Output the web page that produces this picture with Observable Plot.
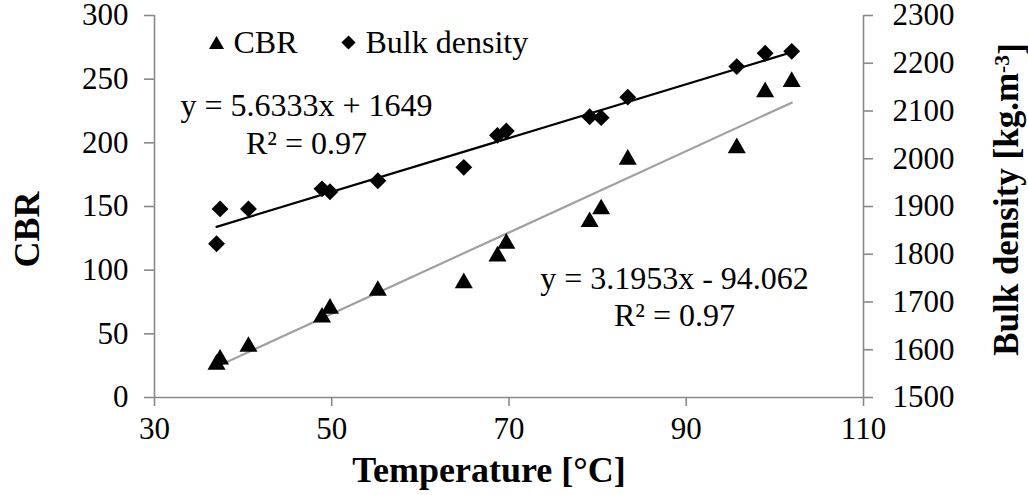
<!DOCTYPE html>
<html>
<head>
<meta charset="utf-8">
<script src="https://cdn.jsdelivr.net/npm/d3@7"></script>
<script src="https://cdn.jsdelivr.net/npm/@observablehq/plot@0.6"></script>
<style>
  html, body { margin: 0; padding: 0; background: #fff; }
  #chart svg { display: block; }
  #chart svg, #chart svg text, #chart svg tspan { font-family: "Liberation Serif", "Times New Roman", Times, serif !important; }
</style>
</head>
<body>
<div id="chart"></div>
<script>
// ---- data ----
const temperature = [37.0, 37.4, 40.6, 48.9, 49.8, 55.2, 64.9, 68.7, 69.7, 79.1, 80.4, 83.4, 95.7, 98.9, 101.9];
const cbr         = [28, 32, 42, 65, 72, 86, 92, 113, 123, 140, 150, 189, 198, 242, 250];
const bulkDensity = [1822, 1895, 1895, 1937, 1931, 1954, 1982, 2049, 2058, 2088, 2086, 2129, 2193, 2221, 2225];

const fitNames      = ["CBR", "Bulk density"];
const fitSlopes     = [3.1953, 5.6333];
const fitIntercepts = [-94.062, 1649];
const fitLabels     = ["y = 3.1953x - 94.062", "y = 5.6333x + 1649"];
const r2Labels      = ["R² = 0.97", "R² = 0.97"];

const xTicks   = [30, 50, 70, 90, 110];
const cbrTicks = [0, 50, 100, 150, 200, 250, 300];
const bdTicks  = [1500, 1600, 1700, 1800, 1900, 2000, 2100, 2200, 2300];

// ---- secondary axis mapping (bulk density -> CBR scale) ----
const bdMin = 1500, bdMax = 2300, cbrMin = 0, cbrMax = 300;
const bdToLeft = v => cbrMin + (v - bdMin) * (cbrMax - cbrMin) / (bdMax - bdMin);
const leftToBd = v => bdMin + (v - cbrMin) * (bdMax - bdMin) / (cbrMax - cbrMin);

const rows = temperature.map((t, i) => ({t, cbr: cbr[i], bd: bdToLeft(bulkDensity[i])}));
const tExt = d3.extent(temperature);
const cbrLine = tExt.map(t => ({t, y: fitSlopes[0] * t + fitIntercepts[0]}));
const bdLine  = tExt.map(t => ({t, y: bdToLeft(fitSlopes[1] * t + fitIntercepts[1])}));

// Excel-like triangle, centred on its bounding box
const triangle = {
  draw(ctx, size) {
    const a = Math.sqrt(4 * size / Math.sqrt(3));
    const h = a * Math.sqrt(3) / 2;
    ctx.moveTo(0, -h / 2);
    ctx.lineTo(a / 2, h / 2);
    ctx.lineTo(-a / 2, h / 2);
    ctx.closePath();
  }
};

const axisGray = "#898989";
const FONT = 31;
const SERIF = "Liberation Serif";
const T = {textAnchor: "middle", lineAnchor: "middle", fontFamily: SERIF};

const chart = Plot.plot({
  width: 1028,
  height: 495,
  marginLeft: 154,
  marginRight: 165,
  marginTop: 15,
  marginBottom: 98,
  style: {fontFamily: SERIF, fontSize: FONT + "px", color: "#000", background: "#fff"},
  x: {domain: [30, 110]},
  y: {domain: [cbrMin, cbrMax]},
  marks: [
    // axis lines
    Plot.ruleY([0], {stroke: axisGray, strokeWidth: 1.6}),
    Plot.ruleX([30], {stroke: axisGray, strokeWidth: 1.6}),
    Plot.ruleX([110], {stroke: axisGray, strokeWidth: 1.6}),
    Plot.axisX(xTicks, {tickSize: 9, tickPadding: 10, stroke: axisGray, strokeWidth: 1.6, fontSize: FONT, fontFamily: SERIF, label: null, tickFormat: d => String(d)}),
    Plot.axisY(cbrTicks, {anchor: "left", tickSize: 10, tickPadding: 16, stroke: axisGray, strokeWidth: 1.6, fontSize: FONT, fontFamily: SERIF, label: null, tickFormat: d => String(d)}),
    Plot.axisY(bdTicks.map(bdToLeft), {anchor: "right", tickSize: 9, tickPadding: 20, stroke: axisGray, strokeWidth: 1.6, fontSize: FONT, fontFamily: SERIF, label: null, tickFormat: d => String(Math.round(leftToBd(d)))}),
    // trend lines
    Plot.line(cbrLine, {x: "t", y: "y", stroke: "#a0a0a0", strokeWidth: 2.2}),
    Plot.line(bdLine, {x: "t", y: "y", stroke: "#000", strokeWidth: 2.2}),
    // points
    Plot.dot(rows, {x: "t", y: "bd", symbol: "diamond2", r: 7.6, fill: "#000", stroke: "none"}),
    Plot.dot(rows, {x: "t", y: "cbr", symbol: triangle, r: 6.7, fill: "#000", stroke: "none"}),
    // legend
    Plot.dot([fitNames[0]], {frameAnchor: "top-left", dx: 62, dy: 27, symbol: triangle, r: 5.6, fill: "#000"}),
    Plot.text([fitNames[0]], {...T, frameAnchor: "top-left", dx: 79, dy: 27, text: d => d, textAnchor: "start", fontSize: 32}),
    Plot.dot([fitNames[1]], {frameAnchor: "top-left", dx: 194, dy: 27, symbol: "diamond2", r: 6.4, fill: "#000"}),
    Plot.text([fitNames[1]], {...T, frameAnchor: "top-left", dx: 211, dy: 27, text: d => d, textAnchor: "start", fontSize: 32}),
    // equations
    Plot.text([fitLabels[1]], {...T, frameAnchor: "top-left", dx: 152, dy: 90, text: d => d, fontSize: 32}),
    Plot.text([r2Labels[1]], {...T, frameAnchor: "top-left", dx: 152, dy: 128, text: d => d, fontSize: 32}),
    Plot.text([fitLabels[0]], {...T, frameAnchor: "top-left", dx: 520, dy: 263, text: d => d, fontSize: 32}),
    Plot.text([r2Labels[0]], {...T, frameAnchor: "top-left", dx: 520, dy: 300, text: d => d, fontSize: 32}),
    // axis titles
    Plot.text(["Temperature [°C]"], {...T, frameAnchor: "bottom", dx: -20, dy: 73, text: d => d, fontWeight: "bold", fontSize: 36}),
    Plot.text(["CBR"], {...T, frameAnchor: "left", dx: -127, dy: 23, rotate: -90, text: d => d, fontWeight: "bold", fontSize: 36}),
    Plot.text(["Bulk density [kg.m-3]"], {...T, frameAnchor: "right", dx: 143, dy: -7, rotate: -90, text: d => d, fontWeight: "bold", fontSize: 35})
  ]
});

// superscript for the secondary axis title
d3.select(chart).selectAll("text").each(function() {
  if (this.textContent === "Bulk density [kg.m-3]") {
    const t = d3.select(this);
    t.text(null);
    t.append("tspan").text("Bulk density [kg.m");
    t.append("tspan").attr("dy", "-0.38em").style("font-size", "0.62em").text("-3");
    t.append("tspan").attr("dy", "0.38em").text("]");
  }
});

document.getElementById("chart").appendChild(chart);
</script>
</body>
</html>
